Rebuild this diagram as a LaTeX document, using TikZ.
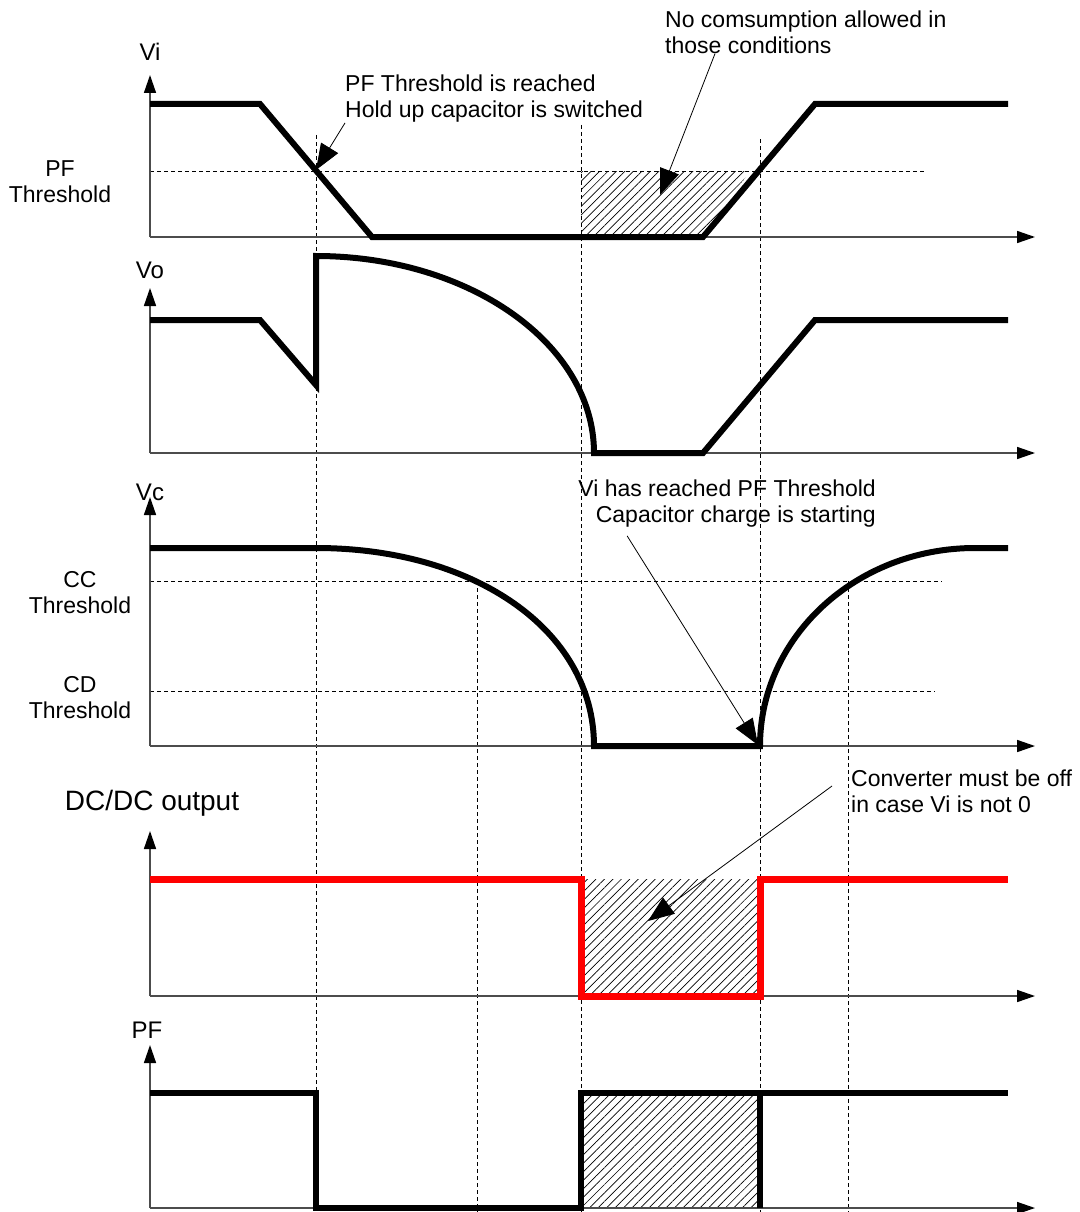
\documentclass[tikz,border=0pt]{standalone}
\usepackage{fontspec}
\setmainfont{Liberation Sans}
\usetikzlibrary{arrows.meta}
\usetikzlibrary{patterns.meta}

\begin{document}
\begin{tikzpicture}[x=1pt,y=-1pt]
    \tikzstyle{axis line} = [draw, black!70, line width=1.5pt, -{Triangle[length=18pt,width=12pt,color=black]}]
    \tikzstyle{guide line} = [draw, dash pattern=on 4pt off 3pt, line width=0.9pt]
    \tikzstyle{signal} = [draw, line width=6pt, line join=miter]
    \tikzstyle{note line} = [draw, line width=0.8pt, -{Triangle[length=26pt,width=20pt]}]
    \tikzstyle{hatch} = [pattern={Lines[angle=45,distance=6pt,line width=0.7pt]}]
    \tikzstyle{note} = [inner sep=0pt, font=\fontsize{23}{26}\selectfont]
    \tikzstyle{axis name} = [inner sep=0pt, font=\fontsize{24}{28}\selectfont]

    \def\xEnd{1008}
    \useasboundingbox (0,0) rectangle (1079,1212);

    % time markers and levels
    \foreach \gx/\gtop in {316/135, 581/125, 760/139, 477/581, 848/581}
        \path [guide line] (\gx,\gtop) -- (\gx,1212);
    \path [guide line] (150,171) -- (925,171);
    \path [guide line] (150,581) -- (942,581);
    \path [guide line] (150,691) -- (935,691);

    % forbidden zones
    \path [hatch] (581,171) -- (750,171) -- (703,237) -- (581,237) -- cycle;
    \path [hatch] (581,879) rectangle (760,996);
    \path [hatch] (581,1093) rectangle (760,1208);

    % axes
    \foreach \base/\tip in {237/75, 453/288, 746/497, 996/831, 1208/1045} {
        \path [axis line] (150,\base) -- (150,\tip);
        \path [axis line] (150,\base) -- (1035,\base);
    }

    \node (Vi) [axis name] at (150,52) {Vi};
    \node (Vo) [axis name] at (150,270) {Vo};
    \node (Vc) [axis name] at (150,492) {Vc};
    \node (DCDC) [inner sep=0pt, font=\fontsize{28}{32}\selectfont] at (152,803) {DC/DC output};
    \node (PF) [axis name] at (147,1030) {PF};

    \node (pfLevel) [note, align=center] at (60,182) {PF\\Threshold};
    \node (ccLevel) [note, align=center] at (80,593) {CC\\Threshold};
    \node (cdLevel) [note, align=center] at (80,698) {CD\\Threshold};

    % waveforms
    \path [signal] (150,104) -- (260,104) -- (372,237) -- (703,237) -- (815,104) -- (\xEnd,104);
    \path [signal] (150,320) -- (260,320) -- (316,385) -- (316,256)
        .. controls (469,256) and (594,344) .. (594,453) -- (703,453) -- (815,320) -- (\xEnd,320);
    \path [signal] (150,548) -- (316,548) .. controls (474,548) and (594,630) .. (594,746)
        -- (760,746) .. controls (760,637) and (856,548) .. (975,548) -- (\xEnd,548);
    \path [signal, red, line width=7pt] (150,879) -- (581,879) -- (581,996) -- (760,996) -- (760,879) -- (\xEnd,879);
    \path [signal] (150,1093) -- (316,1093) -- (316,1208) -- (581,1208) -- (581,1093) -- (\xEnd,1093);
    \path [signal] (760,1093) -- (760,1208);

    % notes
    \node (reachNote) [note, anchor=west, align=left] at (345,99) {PF Threshold is reached\\Hold up capacitor is switched};
    \node (noLoadNote) [note, anchor=west, align=left] at (665,32) {No comsumption allowed in\\those conditions};
    \node (chargeNote) [note, anchor=east, align=right] at (876,504) {Vi has reached PF Threshold\\Capacitor charge is starting};
    \node (offNote) [note, anchor=west, align=left] at (851,791) {Converter must be off\\in case Vi is not 0};

    \coordinate (reachTip) at (316,170);
    \coordinate (noLoadTip) at (660,195);
    \coordinate (chargeTip) at (758,745);
    \coordinate (offTip) at (648,921);

    \path [note line] (reachNote.south west) -- (reachTip);
    \path [note line] ([xshift=50pt]noLoadNote.south west) -- (noLoadTip);
    \path [note line] ([xshift=49pt,yshift=-8pt]chargeNote.south west) -- (chargeTip);
    \path [note line] ([xshift=-19pt,yshift=5pt]offNote.west) -- (offTip);
\end{tikzpicture}
\end{document}
